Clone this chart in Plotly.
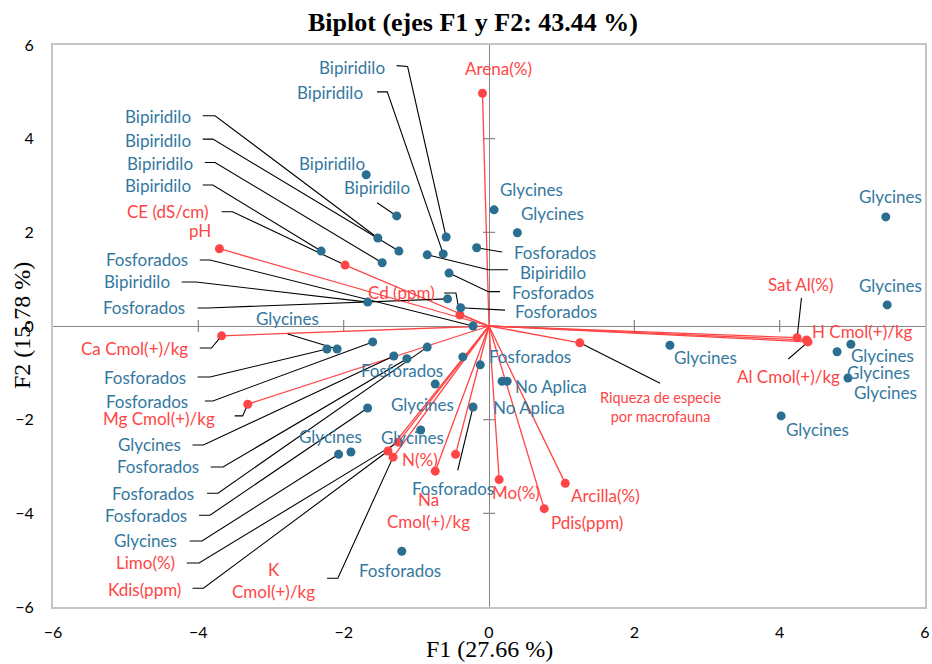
import plotly.graph_objects as go

# ---------------- observations (F1, F2) ----------------
obs_names = ["Bipiridilo"] * 9 + ["Fosforados", "Glycines", "Glycines", "Fosforados", "Fosforados",
             "Fosforados", "Fosforados", "Bipiridilo", "Fosforados", "Glycines", "Fosforados",
             "Glycines", "Fosforados", "Fosforados", "Fosforados", "Glycines", "Glycines", "Glycines",
             "Glycines", "Fosforados", "Fosforados", "No Aplica", "No Aplica", "Fosforados",
             "Fosforados"] + ["Glycines"] * 7
obs_x = [-1.69, -1.27, -1.53, -1.24, -2.31, -1.47, -0.59, -0.63, -0.85, -0.17,
         0.07, 0.39, -0.55, -0.57, -0.39, -0.22, -1.67, -2.23, -2.09, -1.60,
         -1.31, -1.13, -0.85, -1.67, -2.07, -1.90, -0.94, -0.74, -0.36, -0.12,
         0.18, 0.25, -0.22, -1.20, 2.49, 5.46, 5.48, 4.79, 4.98, 4.94, 4.02]
obs_y = [3.23, 2.35, 1.88, 1.60, 1.60, 1.35, 1.90, 1.54, 1.52, 1.67,
         2.48, 1.99, 1.13, 0.58, 0.39, 0.00, 0.51, -0.49, -0.49, -0.34,
         -0.64, -0.70, -0.45, -1.75, -2.74, -2.69, -2.22, -1.24, -0.66, -0.83,
         -1.18, -1.18, -1.73, -4.81, -0.41, 2.33, 0.45, -0.55, -0.39, -1.11, -1.92]

# label placement (data units) and leader anchor points
obs_lab_x = [-2.16, -1.54, -4.08, -4.08, -4.08, -4.05, -1.40, -1.71, 0.40, 0.31,
             0.58, 0.88, 0.29, -4.15, 0.335, -4.12, -4.36, -4.14, -2.77, -4.12,
             -4.21, -3.96, -4.03, -4.13, -4.26, -2.18, -1.05, -0.91, -1.20, 0.565,
             0.55, 0.85, -0.50, -1.23, 2.975, 5.52, 5.52, 5.36, 5.41, 5.45, 4.52]
obs_lab_y = [3.48, 2.95, 4.47, 3.97, 3.01, 3.46, 5.53, 4.98, 1.15, 1.56,
             2.91, 2.41, 0.705, 0.385, 0.32, 1.41, 0.94, -1.10, 0.15, -1.62,
             -2.54, -3.01, -3.57, -4.04, -4.59, -2.35, -2.37, -1.67, -0.94, -0.66,
             -1.75, -1.30, -3.46, -5.21, -0.68, 2.76, 0.855, -1.00, -0.62, -1.43, -2.22]
obs_lab_anchor = ["center", "center", "right", "right", "right", "right", "right", "right", "left", "left",
                  "center", "center", "left", "right", "left", "right", "right", "right", "center", "right",
                  "right", "right", "right", "right", "right", "center", "center", "center", "center", "center",
                  "center", "center", "center", "center", "center", "center", "center", "center", "center",
                  "center", "center"]
obs_leaders = [
    [], [(-1.54, 2.63)], [(-3.94, 4.49), (-3.77, 4.49)], [(-3.94, 3.99), (-3.80, 3.99)],
    [(-3.94, 3.01), (-3.80, 3.01)], [(-3.91, 3.49), (-3.77, 3.49)],
    [(-1.27, 5.56), (-1.12, 5.54)], [(-1.54, 5.00), (-1.40, 5.00)],
    [(0.26, 1.20), (-0.01, 1.20)], [(0.18, 1.58)], [], [],
    [(0.15, 0.733), (-0.01, 0.733)], [(-4.01, 0.385), (-3.87, 0.385)], [(0.22, 0.34)],
    [(-3.98, 1.41), (-3.84, 1.41)], [(-4.23, 0.94), (-4.03, 0.94)],
    [(-4.01, -1.09), (-3.84, -1.09)], [(-2.77, -0.17)], [(-3.91, -1.60), (-3.80, -1.60)],
    [(-4.08, -2.54), (-3.93, -2.54)], [(-3.83, -3.01), (-3.66, -3.01)],
    [(-3.88, -3.57), (-3.73, -3.57)], [(-3.99, -4.04), (-3.84, -4.04)],
    [(-4.12, -4.59), (-3.95, -4.59)], [], [], [], [], [], [], [], [(-0.43, -3.08)], [],
    [], [], [], [], [], [], [],
]

# ---------------- variables (loadings) ----------------
var_names = ["Arena(%)", "pH", "CE (dS/cm)", "Cd (ppm)", "Ca Cmol(+)/kg", "Mg Cmol(+)/kg",
             "Riqueza de especie<br>por macrofauna", "Sat Al(%)", "H Cmol(+)/kg", "Al Cmol(+)/kg",
             "Limo(%)", "Kdis(ppm)", "K<br>Cmol(+)/kg", "N(%)", "Na<br>Cmol(+)/kg", "Mo(%)",
             "Arcilla(%)", "Pdis(ppm)"]
var_x = [-0.09, -3.71, -1.98, -0.40, -3.68, -3.32, 1.25, 4.24, 4.37, 4.39,
         -1.25, -1.39, -1.32, -0.46, -0.74, 0.14, 1.05, 0.76]
var_y = [4.97, 1.65, 1.30, 0.235, -0.21, -1.67, -0.36, -0.25, -0.30, -0.34,
         -2.48, -2.67, -2.80, -2.74, -3.10, -3.28, -3.36, -3.90]
var_lab_x = [0.124, -3.98, -3.82, -1.21, -4.11, -3.75, 2.355, 4.30, 5.14, 4.12,
             -4.30, -4.21, -2.96, -0.95, -0.83, 0.37, 1.60, 1.35]
var_lab_y = [5.49, 2.03, 2.44, 0.705, -0.49, -1.97, -1.74, 0.876, -0.128, -1.07,
             -5.06, -5.62, -5.43, -2.84, -3.93, -3.55, -3.61, -4.19]
var_lab_anchor = ["center", "center", "right", "center", "right", "right", "center", "center",
                  "center", "center", "right", "right", "center", "center", "center", "center",
                  "center", "center"]
var_leaders = [
    [], [], [(-3.68, 2.44), (-3.53, 2.44)], [(-0.62, 0.705), (-0.455, 0.705)],
    [(-3.98, -0.47), (-3.82, -0.47)], [(-3.50, -1.92), (-3.39, -1.92)],
    [(2.355, -1.22)], [(4.30, 0.60)], [], [(4.12, -0.705)],
    [(-4.16, -5.06), (-3.99, -5.06)], [(-4.08, -5.60), (-3.93, -5.60)],
    [(-2.23, -5.385), (-2.08, -5.385)], [], [], [], [], [],
]

ticks = [-6, -4, -2, 0, 2, 4, 6]

BLUE_M = "#2A6E90"
BLUE_T = "#3478A0"
RED = "#FF4545"
LABEL_FONT = "Lato"
LABEL_SIZE = 17

fig = go.Figure()

# variable vectors
vx, vy = [], []
for x, y in zip(var_x, var_y):
    vx += [0, x, None]
    vy += [0, y, None]
fig.add_trace(go.Scatter(x=vx, y=vy, mode="lines", line=dict(color=RED, width=1.3),
                         hoverinfo="skip", showlegend=False))

# leader lines
lx, ly = [], []
for pts, x, y in list(zip(obs_leaders, obs_x, obs_y)) + list(zip(var_leaders, var_x, var_y)):
    if pts:
        for p in pts:
            lx.append(p[0]); ly.append(p[1])
        lx += [x, None]; ly += [y, None]
fig.add_trace(go.Scatter(x=lx, y=ly, mode="lines", line=dict(color="black", width=1.1),
                         hoverinfo="skip", showlegend=False))

fig.add_trace(go.Scatter(x=var_x, y=var_y, mode="markers", marker=dict(color=RED, size=9),
                         text=var_names, showlegend=False))
fig.add_trace(go.Scatter(x=obs_x, y=obs_y, mode="markers", marker=dict(color=BLUE_M, size=9),
                         text=obs_names, showlegend=False))

ann = []
for t, x, y, a in zip(obs_names, obs_lab_x, obs_lab_y, obs_lab_anchor):
    ann.append(dict(x=x, y=y, xref="x", yref="y", text=t, showarrow=False, xanchor=a,
                    yanchor="middle", font=dict(family=LABEL_FONT, size=LABEL_SIZE, color=BLUE_T)))
for t, x, y, a in zip(var_names, var_lab_x, var_lab_y, var_lab_anchor):
    sz = 14.5 if t.startswith("Riqueza") else LABEL_SIZE
    ann.append(dict(x=x, y=y, xref="x", yref="y", text=t, showarrow=False, xanchor=a,
                    yanchor="middle", font=dict(family=LABEL_FONT, size=sz, color=RED)))

# axis titles
ann.append(dict(x=0.5, y=0, xref="paper", yref="paper", yshift=-42, text="F1 (27.66 %)",
                showarrow=False, xanchor="center", yanchor="middle",
                font=dict(family="Liberation Serif", size=24, color="black")))
ann.append(dict(x=0, y=0.5, xref="paper", yref="paper", xshift=-31, text="F2 (15.78 %)",
                textangle=-90, showarrow=False, xanchor="center", yanchor="middle",
                font=dict(family="Liberation Serif", size=24, color="black")))

# tick marks on the zero axes
shapes = []
for t in ticks:
    if abs(t) in (0, 6):
        continue
    shapes.append(dict(type="line", xref="x", yref="y", xsizemode="pixel", xanchor=0,
                       x0=-6, x1=6, y0=t, y1=t, line=dict(color="#868686", width=1.2), layer="below"))
    shapes.append(dict(type="line", xref="x", yref="y", ysizemode="pixel", yanchor=0,
                       y0=-6, y1=6, x0=t, x1=t, line=dict(color="#868686", width=1.2), layer="below"))

fig.update_layout(
    width=932, height=664,
    margin=dict(l=53, r=7, t=45, b=57, autoexpand=False),
    paper_bgcolor="white", plot_bgcolor="white",
    title=dict(text="<b>Biplot (ejes F1 y F2: 43.44 %)</b>", x=473 / 932, xanchor="center",
               y=1 - 22 / 664, yanchor="middle", yref="container",
               font=dict(family="Liberation Serif", size=26, color="black")),
    annotations=ann, shapes=shapes,
    xaxis=dict(range=[-6, 6], tickvals=ticks, showgrid=False, zeroline=True, automargin=False,
               zerolinecolor="#868686", zerolinewidth=1.3, showline=True, mirror=True,
               linecolor="#C4C4C4", linewidth=2, ticks="", ticklabelstandoff=10,
               tickfont=dict(family=LABEL_FONT, size=16, color="black")),
    yaxis=dict(range=[-6, 6], tickvals=ticks, showgrid=False, zeroline=True, automargin=False,
               zerolinecolor="#868686", zerolinewidth=1.3, showline=True, mirror=True,
               linecolor="#C4C4C4", linewidth=2, ticks="", ticklabelstandoff=14,
               tickfont=dict(family=LABEL_FONT, size=16, color="black")),
)

fig.write_html("out.html", config={"displayModeBar": False},
               post_script="document.body.style.margin='0px';document.body.style.overflow='hidden';")
